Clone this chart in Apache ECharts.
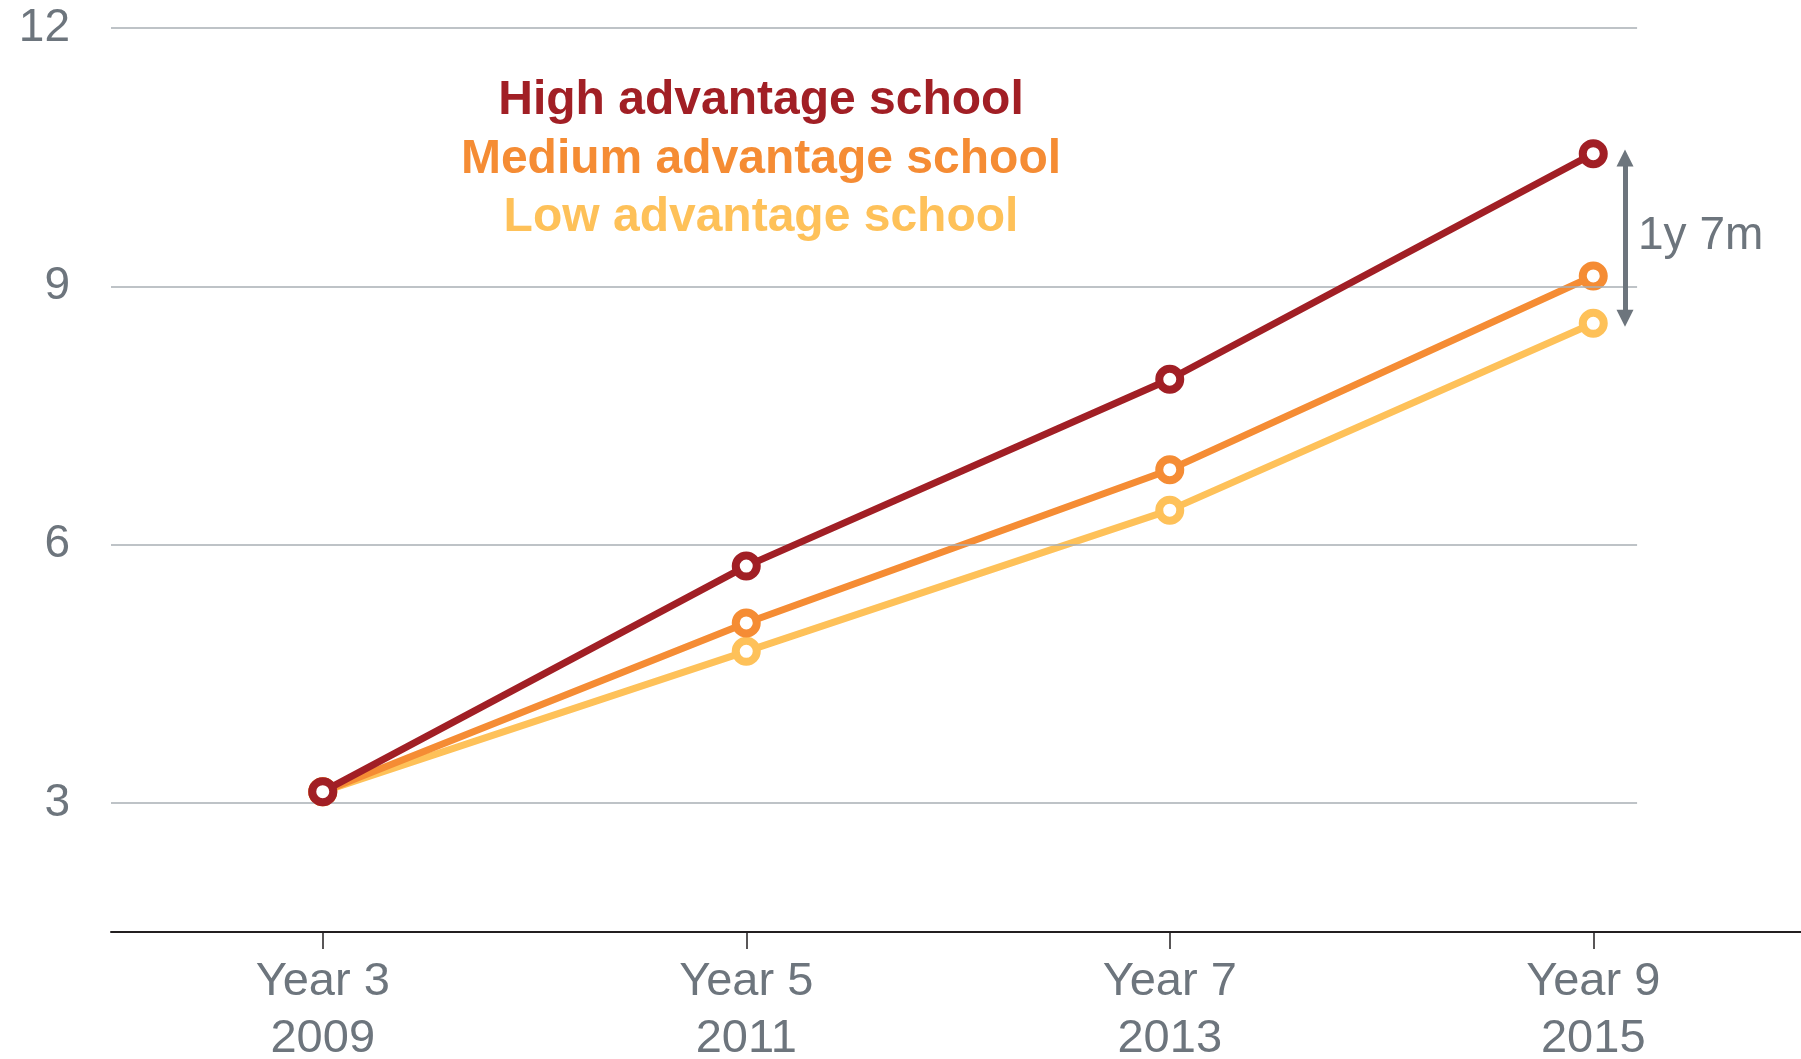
<!DOCTYPE html>
<html>
<head>
<meta charset="utf-8">
<script src="https://cdn.jsdelivr.net/npm/echarts@6/dist/echarts.min.js"></script>
<style>
  html, body { margin: 0; padding: 0; background: #ffffff; overflow: hidden; }
  #chart { width: 1801px; height: 1059px; }
</style>
</head>
<body>
<div id="chart"></div>
<script>
// Year levels (x position) and NAPLAN test years
const yearLevels = [3, 5, 7, 9];
const testYears = ['2009', '2011', '2013', '2015'];

// Equivalent year level reached by each school group
const highAdvantage = [3.13, 5.75, 7.92, 10.54];
const mediumAdvantage = [3.13, 5.09, 6.87, 9.12];
const lowAdvantage = [3.13, 4.76, 6.40, 8.57];

const seriesNames = ['High advantage school', 'Medium advantage school', 'Low advantage school'];
const yTicks = [3, 6, 9, 12];
const gapLabel = '1y 7m';

const colors = { high: '#a11f25', medium: '#f58c34', low: '#fec159' };
const grey = '#6d757d';
const font = '"Liberation Sans", Arial, Helvetica, sans-serif';

// horizontal reference lines stop short of the right end of the x axis
const gridLineEnd = 9.207;
const arrowX = 9.15;

function pairs(values) {
  return yearLevels.map((x, i) => [x, values[i]]);
}

function lineSeries(name, values, color, z) {
  return {
    name: name,
    type: 'line',
    data: pairs(values),
    z: z,
    symbol: 'circle',
    symbolSize: 21,
    lineStyle: { color: color, width: 7 },
    itemStyle: { color: '#ffffff', borderColor: color, borderWidth: 8 },
    emphasis: { disabled: true }
  };
}

const chart = echarts.init(document.getElementById('chart'), null, { renderer: 'canvas' });

const high = lineSeries(seriesNames[0], highAdvantage, colors.high, 5);
// gap arrow between high and low at Year 9
high.markLine = {
  silent: true,
  symbol: ['triangle', 'triangle'],
  symbolSize: 17,
  lineStyle: { color: grey, width: 5, type: 'solid' },
  label: { show: false },
  data: [[
    { coord: [arrowX, highAdvantage[3] - 0.05] },
    { coord: [arrowX, lowAdvantage[3] + 0.06] }
  ]]
};
high.markPoint = {
  silent: true,
  symbol: 'circle',
  symbolSize: 0,
  label: {
    show: true,
    position: 'right',
    distance: 13,
    formatter: gapLabel,
    color: grey,
    fontSize: 46,
    fontFamily: font
  },
  data: [{ coord: [arrowX, (highAdvantage[3] + lowAdvantage[3]) / 2 + 0.03] }]
};

const option = {
  animation: false,
  backgroundColor: '#ffffff',
  title: {
    text: '{h|' + seriesNames[0] + '}\n{m|' + seriesNames[1] + '}\n{l|' + seriesNames[2] + '}',
    left: 761,
    top: 72,
    padding: 0,
    textAlign: 'center',
    textStyle: {
      fontFamily: font,
      fontWeight: 'bold',
      fontSize: 48,
      lineHeight: 58.5,
      rich: {
        h: { color: colors.high, fontSize: 48, fontWeight: 'bold', fontFamily: font, lineHeight: 58.5 },
        m: { color: colors.medium, fontSize: 48, fontWeight: 'bold', fontFamily: font, lineHeight: 58.5 },
        l: { color: colors.low, fontSize: 48, fontWeight: 'bold', fontFamily: font, lineHeight: 58.5 }
      }
    }
  },
  grid: {
    left: 111, top: 28, width: 1694, height: 904,
    containLabel: false,
    outerBoundsMode: 'none'
  },
  xAxis: {
    type: 'value',
    min: 2,
    max: 10,
    interval: 1,
    axisLine: { show: true, onZero: false, lineStyle: { color: '#231f20', width: 2 } },
    axisTick: {
      show: true,
      customValues: yearLevels,
      length: 17,
      lineStyle: { color: '#231f20', width: 1.5 }
    },
    axisLabel: {
      customValues: yearLevels,
      margin: 22,
      color: grey,
      fontSize: 47,
      lineHeight: 57,
      fontFamily: font,
      formatter: function (v) {
        const i = yearLevels.indexOf(v);
        return i < 0 ? '' : 'Year ' + v + '\n' + testYears[i];
      }
    },
    splitLine: { show: false }
  },
  yAxis: {
    type: 'value',
    min: 1.5,
    max: 12,
    interval: 1.5,
    axisLine: { show: false },
    axisTick: { show: false },
    splitLine: { show: false },
    axisLabel: {
      margin: 41,
      color: grey,
      fontSize: 46,
      fontFamily: font,
      formatter: function (v) { return yTicks.indexOf(v) >= 0 ? String(v) : ''; }
    }
  },
  series: [
    {
      name: 'gridlines',
      type: 'line',
      data: [],
      z: 1,
      silent: true,
      markLine: {
        silent: true,
        symbol: ['none', 'none'],
        label: { show: false },
        lineStyle: { color: '#a9afb4', width: 1.6, type: 'solid' },
        data: yTicks.map(v => [{ coord: [2, v] }, { coord: [gridLineEnd, v] }])
      }
    },
    lineSeries(seriesNames[2], lowAdvantage, colors.low, 3),
    lineSeries(seriesNames[1], mediumAdvantage, colors.medium, 4),
    high
  ]
};

chart.setOption(option);
</script>
</body>
</html>
